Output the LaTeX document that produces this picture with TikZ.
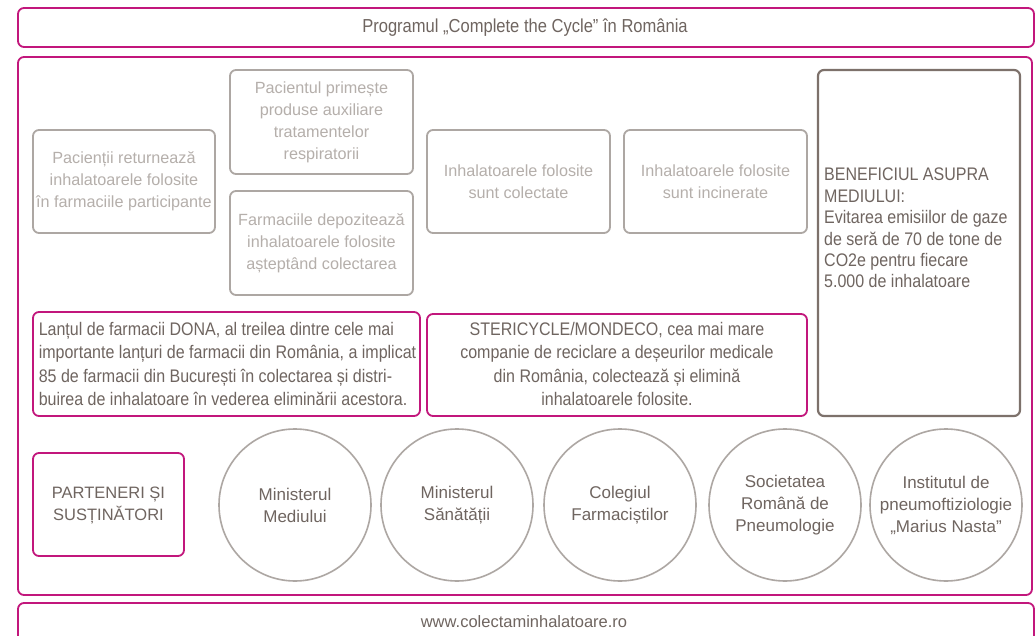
\documentclass[tikz,border=0pt]{standalone}
\usepackage{fontspec}
\setmainfont{Liberation Sans}
\newfontfamily\condf[FakeStretch=0.88]{Liberation Sans}
\definecolor{mag}{HTML}{C2177C}
\definecolor{darktxt}{HTML}{6F6560}
\definecolor{graytxt}{HTML}{B5AFAB}
\definecolor{graystroke}{HTML}{ADA7A3}
\definecolor{benstroke}{HTML}{7D716B}
\tikzset{
  magbox/.style={draw=mag, line width=1.8pt, rounded corners=6pt},
  graybox/.style={draw=graystroke, line width=1.8pt, rounded corners=6pt},
  graytext/.style={text=graytxt, font=\fontsize{16.2}{22}\selectfont, align=center, inner sep=0pt},
  darktext/.style={text=darktxt, font=\condf\fontsize{18.2}{23.6}\selectfont, inner sep=0pt},
  circ/.style={circle, draw=graystroke, line width=1.6pt, minimum size=152pt, inner sep=0pt,
    text=darktxt, font=\fontsize{17}{22}\selectfont, align=center},
}
\begin{document}
\begin{tikzpicture}[x=1pt,y=-1pt]
\useasboundingbox (0,0) rectangle (1036,636);
\fill[white] (0,0) rectangle (1036,636);
% frames
\draw[magbox] (18,8) rectangle (1034,47);
\node[darktext, font=\condf\fontsize{18.8}{22}\selectfont] (title) at (525,27.5) {Programul „Complete the Cycle” în România};
\draw[magbox] (18,57) rectangle (1032,595);
\draw[magbox] (18,603) rectangle (1034,650);
\node[text=darktxt, font=\fontsize{16.5}{20}\selectfont, inner sep=0pt] (url) at (524,622) {www.colectaminhalatoare.ro};
% gray step boxes
\draw[graybox] (33,130) rectangle (215,233);
\node[graytext] (b1) at (124,181.5) {Pacienții returnează\\inhalatoarele folosite\\în farmaciile participante};
\draw[graybox] (230,70) rectangle (413,174);
\node[graytext] (b2) at (321.5,122) {Pacientul primește\\produse auxiliare\\tratamentelor\\respiratorii};
\draw[graybox] (230,191) rectangle (413,295);
\node[graytext] (b3) at (321.5,243) {Farmaciile depozitează\\inhalatoarele folosite\\așteptând colectarea};
\draw[graybox] (427,130) rectangle (610,233);
\node[graytext] (b4) at (518.5,181.5) {Inhalatoarele folosite\\sunt colectate};
\draw[graybox] (624,130) rectangle (807,233);
\node[graytext] (b5) at (715.5,181.5) {Inhalatoarele folosite\\sunt incinerate};
% benefit box
\draw[draw=benstroke, line width=2.2pt, rounded corners=6pt] (818,70) rectangle (1020,416);
\node[darktext, font=\condf\fontsize{18.2}{21.4}\selectfont, anchor=north west, align=left] (ben) at (824,168)
 {BENEFICIUL ASUPRA\\MEDIULUI:\\Evitarea emisiilor de gaze\\de seră de 70 de tone de\\CO2e pentru fiecare\\5.000 de inhalatoare};
% partner boxes
\draw[magbox] (33,312) rectangle (420,416);
\node[darktext, align=left] (dona) at (227.5,364)
 {Lanțul de farmacii DONA, al treilea dintre cele mai\\importante lanțuri de farmacii din România, a implicat\\85 de farmacii din București în colectarea și distri-\\buirea de inhalatoare în vederea eliminării acestora.};
\draw[magbox] (427,314) rectangle (807,416);
\node[darktext, align=center] (steri) at (617,364)
 {STERICYCLE/MONDECO, cea mai mare\\companie de reciclare a deșeurilor medicale\\din România, colectează și elimină\\inhalatoarele folosite.};
% partners
\draw[magbox] (33,453) rectangle (184,556);
\node[text=darktxt, font=\fontsize{16.5}{22}\selectfont, align=center, inner sep=0pt] (part) at (108.5,505) {PARTENERI ȘI\\SUSȚINĂTORI};
\node[circ] (c1) at (295,505) {Ministerul\\Mediului};
\node[circ] (c2) at (457,505) {Ministerul\\Sănătății};
\node[circ] (c3) at (620,505) {Colegiul\\Farmaciștilor};
\node[circ] (c4) at (785,505) {Societatea\\Română de\\Pneumologie};
\node[circ] (c5) at (946,505) {Institutul de\\pneumoftiziologie\\„Marius Nasta”};
\end{tikzpicture}
\end{document}
